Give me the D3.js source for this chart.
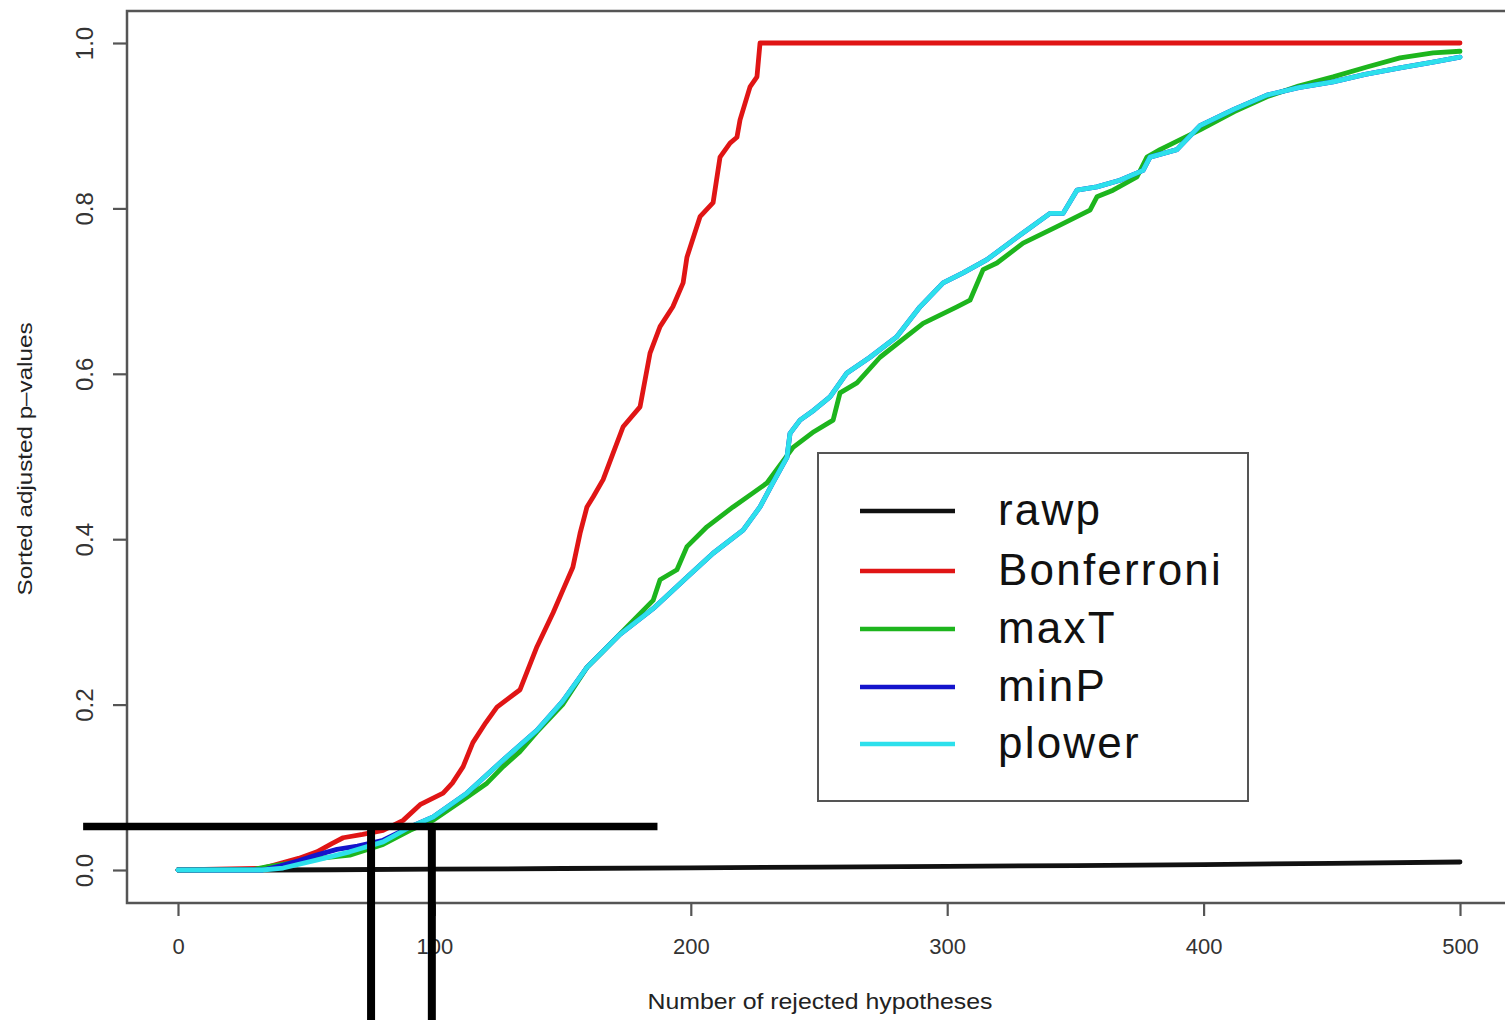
<!DOCTYPE html>
<html>
<head>
<meta charset="utf-8">
<script src="https://cdn.jsdelivr.net/npm/d3@7"></script>
<style>
  html, body { margin: 0; padding: 0; background: #ffffff; }
  svg { display: block; }
</style>
</head>
<body>
<div id="chart"></div>
<script>
// ---------------- DATA ----------------
const seriesNames = ["rawp", "Bonferroni", "maxT", "minP", "plower"];
const xTicks = [0, 100, 200, 300, 400, 500];
const yTicks = [0.0, 0.2, 0.4, 0.6, 0.8, 1.0];
const xTitle = "Number of rejected hypotheses";
const yTitle = "Sorted adjusted p\u2013values";

const rawp = [[0,0],[35,0],[60,0.0003],[100,0.001],[150,0.0018],[200,0.0026],[250,0.0035],
  [300,0.0044],[350,0.0054],[400,0.0066],[450,0.008],[500,0.0097]];

const bonferroni = [[0,0],[33,0.002],[40,0.008],[47,0.014],[54.2,0.022],[60,0.032],[64.4,0.039],
  [72,0.043],[80,0.048],[87.8,0.060],[94.4,0.079],[103.4,0.093],[107,0.105],[111.2,0.125],
  [115,0.154],[120,0.178],[124.4,0.197],[133.4,0.218],[140,0.270],[146.3,0.311],[150.2,0.339],
  [154,0.366],[156.8,0.407],[159.5,0.439],[161.9,0.451],[165.8,0.472],[169.7,0.504],[173.6,0.536],
  [180.2,0.560],[184.1,0.625],[188,0.657],[193,0.681],[197,0.710],[198.5,0.741],[203.6,0.790],
  [208.7,0.807],[211.4,0.862],[215.3,0.879],[218,0.886],[219.2,0.907],[223.1,0.947],[225.8,0.959],
  [227,1.0],[500,1.0]];

const maxT = [[0,0],[30,0.001],[35,0.004],[45,0.009],[55,0.014],[67,0.018],[80,0.031],[90.5,0.048],
  [99.5,0.060],[112.7,0.088],[120.5,0.105],[126.8,0.125],[133,0.142],[140,0.167],[150,0.2],
  [159.5,0.245],[165,0.262],[175.1,0.294],[185.3,0.326],[188,0.351],[194.6,0.363],[198.5,0.391],
  [206.3,0.415],[216.5,0.439],[224.3,0.456],[229.7,0.468],[239.9,0.511],[248,0.53],[255.5,0.544],
  [258.2,0.577],[264.8,0.589],[273.8,0.620],[290.6,0.661],[303.8,0.681],[308.9,0.689],[314,0.726],
  [319.4,0.734],[329.6,0.758],[342.8,0.778],[355.7,0.798],[358.4,0.814],[364.7,0.822],[374,0.838],
  [377.9,0.862],[383,0.871],[398.6,0.895],[412,0.917],[424.7,0.935],[437,0.948],[450.5,0.959],
  [463.7,0.971],[476.6,0.982],[489.5,0.988],[500,0.99]];

const minP = [[0,0],[33,0],[40,0.005],[47,0.011],[54,0.018],[62,0.025],[70,0.029],[80,0.036],
  [90.5,0.052],[99.5,0.064],[112.7,0.093],[126.8,0.133],[140,0.169],[150,0.204],[159.5,0.245],
  [172.4,0.285],[185.3,0.316],[198.5,0.354],[208.7,0.383],[220.4,0.411],[227,0.439],[232,0.468],
  [237.5,0.499],[238.7,0.528],[242.6,0.544],[248,0.556],[254.3,0.572],[260.9,0.601],[269.9,0.620],
  [280.4,0.645],[289.4,0.681],[298.4,0.710],[306.2,0.722],[315.5,0.738],[327.2,0.765],[340.1,0.794],
  [345.2,0.794],[350.6,0.822],[358.4,0.826],[367.4,0.834],[376.4,0.846],[379.1,0.862],[389.6,0.871],
  [398.6,0.900],[412,0.92],[424.7,0.937],[437,0.946],[450.5,0.953],[463,0.962],[476.6,0.970],
  [489.5,0.977],[500,0.983]];

const plower = [[0,0],[32.8,0],[41,0.0024],[54,0.012],[67,0.022],[80,0.034],[90.5,0.052],
  [99.5,0.064],[112.7,0.093],[126.8,0.133],[140,0.169],[150,0.204],[159.5,0.245],[172.4,0.285],
  [185.3,0.316],[198.5,0.354],[208.7,0.383],[220.4,0.411],[227,0.439],[232,0.468],[237.5,0.499],
  [238.7,0.528],[242.6,0.544],[248,0.556],[254.3,0.572],[260.9,0.601],[269.9,0.620],[280.4,0.645],
  [289.4,0.681],[298.4,0.710],[306.2,0.722],[315.5,0.738],[327.2,0.765],[340.1,0.794],[345.2,0.794],
  [350.6,0.822],[358.4,0.826],[367.4,0.834],[376.4,0.846],[379.1,0.862],[389.6,0.871],[398.6,0.900],
  [412,0.92],[424.7,0.937],[437,0.946],[450.5,0.953],[463,0.962],[476.6,0.970],[489.5,0.977],
  [500,0.983]];

// annotation lines drawn over the chart (threshold and cut-offs)
const annotLevel = 0.0525;          // horizontal line level
const annotLevelSpan = [-37, 187];  // its x extent
const annotCuts = [75.3, 99];       // vertical line positions
const annotCutBottom = -0.2;

const seriesData = [rawp, bonferroni, maxT, minP, plower];
const seriesColors = ["#111111", "#e01515", "#1db51d", "#1414cc", "#2de0ec"];

// ---------------- LAYOUT ----------------
const W = 1505, H = 1020;
const frame = {left: 127, top: 11, right: 1512, bottom: 903};
const font = "'Liberation Sans', Arial, Helvetica, sans-serif";

const svg = d3.select("#chart").append("svg").attr("width", W).attr("height", H);
svg.append("rect").attr("width", W).attr("height", H).attr("fill", "#ffffff");

const x = d3.scaleLinear().domain([0, 500]).range([178, 1460]);
const y = d3.scaleLinear().domain([0, 1]).range([870, 43]);

// frame box
svg.append("rect")
  .attr("x", frame.left).attr("y", frame.top)
  .attr("width", frame.right - frame.left).attr("height", frame.bottom - frame.top)
  .attr("fill", "none").attr("stroke", "#555").attr("stroke-width", 2.5);

// x axis (ticks only, below frame)
const xAxis = svg.append("g").attr("transform", `translate(0,${frame.bottom})`)
  .call(d3.axisBottom(x).tickValues(xTicks).tickSize(13).tickPadding(22).tickFormat(d3.format("d")));
xAxis.select(".domain").remove();
xAxis.selectAll("line").attr("stroke", "#555").attr("stroke-width", 2.2);
xAxis.selectAll("text").attr("font-family", font).attr("font-size", 22).attr("fill", "#333");

// y axis
const yAxis = svg.append("g").attr("transform", `translate(${frame.left},0)`)
  .call(d3.axisLeft(y).tickValues(yTicks).tickSize(14).tickFormat(d3.format(".1f")));
yAxis.select(".domain").remove();
yAxis.selectAll("line").attr("stroke", "#555").attr("stroke-width", 2.2);
yAxis.selectAll("text")
  .attr("font-family", font).attr("font-size", 24).attr("fill", "#333")
  .attr("text-anchor", "middle").attr("dy", null).attr("x", null)
  .attr("transform", d => `translate(-34,0) rotate(-90)`)
  .attr("y", 0).attr("dy", "0");

// axis titles
svg.append("text").attr("x", 820).attr("y", 1009)
  .attr("text-anchor", "middle").attr("font-family", font).attr("font-size", 22)
  .attr("fill", "#222").attr("textLength", 345).attr("lengthAdjust", "spacingAndGlyphs")
  .text(xTitle);
svg.append("text").attr("transform", "translate(32,459) rotate(-90)")
  .attr("text-anchor", "middle").attr("font-family", font).attr("font-size", 21)
  .attr("fill", "#222").attr("textLength", 273).attr("lengthAdjust", "spacingAndGlyphs")
  .text(yTitle);

// series lines
const line = d3.line().x(d => x(d[0])).y(d => y(d[1])).curve(d3.curveLinear);
svg.append("g").selectAll("path").data(seriesData).join("path")
  .attr("d", line)
  .attr("fill", "none")
  .attr("stroke", (d, i) => seriesColors[i])
  .attr("stroke-width", 4.8)
  .attr("stroke-linejoin", "round")
  .attr("stroke-linecap", "round");

// legend
const legend = svg.append("g");
legend.append("rect").attr("x", 818).attr("y", 453).attr("width", 430).attr("height", 348)
  .attr("fill", "#ffffff").attr("stroke", "#555").attr("stroke-width", 2);
const legY = [511, 571, 629, 687, 744];
seriesNames.forEach((name, i) => {
  legend.append("line").attr("x1", 860).attr("x2", 955)
    .attr("y1", legY[i]).attr("y2", legY[i])
    .attr("stroke", seriesColors[i]).attr("stroke-width", 4.5);
  legend.append("text").attr("x", 998).attr("y", legY[i] + 14)
    .attr("font-family", font).attr("font-size", 44).attr("letter-spacing", 2.2)
    .attr("fill", "#111").text(name);
});

// annotation lines (black thick)
const annot = svg.append("g").attr("stroke", "#000");
annot.append("line")
  .attr("x1", x(annotLevelSpan[0])).attr("x2", x(annotLevelSpan[1]))
  .attr("y1", y(annotLevel)).attr("y2", y(annotLevel))
  .attr("stroke-width", 7.5);
annot.selectAll("line.cut").data(annotCuts).join("line").attr("class", "cut")
  .attr("x1", d => x(d)).attr("x2", d => x(d))
  .attr("y1", y(annotLevel)).attr("y2", y(annotCutBottom))
  .attr("stroke-width", 8);
</script>
</body>
</html>
